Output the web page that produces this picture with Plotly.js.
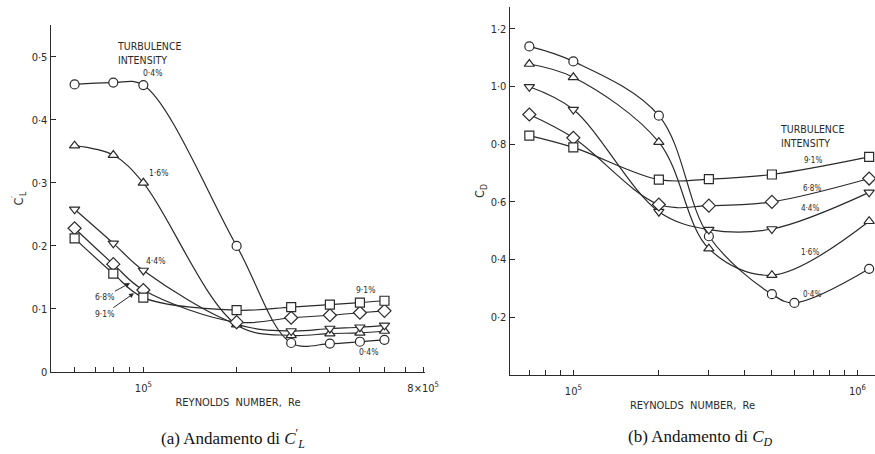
<!DOCTYPE html>
<html><head><meta charset="utf-8">
<script src="https://cdn.plot.ly/plotly-3.0.1.min.js"></script>
<style>html,body{margin:0;padding:0;background:#fff}#chart{width:875px;height:454px}</style>
</head><body><div id="chart"></div>
<script>
// ---- Panel (a): fluctuating lift coefficient C'L vs Reynolds number ----
const reA = [6e4, 8e4, 1e5, 2e5, 3e5, 4e5, 5e5, 6e5];
const clTi04 = [0.456, 0.459, 0.455, 0.200, 0.046, 0.045, 0.048, 0.051];
const clTi16 = [0.359, 0.344, 0.300, 0.075, 0.058, 0.061, 0.062, 0.065];
const clTi44 = [0.258, 0.204, 0.161, 0.076, 0.065, 0.069, 0.071, 0.074];
const clTi68 = [0.228, 0.171, 0.130, 0.079, 0.086, 0.090, 0.094, 0.097];
const clTi91 = [0.212, 0.156, 0.118, 0.098, 0.103, 0.107, 0.110, 0.113];

// ---- Panel (b): drag coefficient CD vs Reynolds number ----
const reB04 = [7e4, 1e5, 2e5, 3e5, 5e5, 6e5, 1.1e6];
const reB = [7e4, 1e5, 2e5, 3e5, 5e5, 1.1e6];
const cdTi04 = [1.139, 1.087, 0.899, 0.481, 0.280, 0.250, 0.368];
const cdTi16 = [1.078, 1.032, 0.807, 0.438, 0.346, 0.533];
const cdTi44 = [0.999, 0.920, 0.566, 0.504, 0.506, 0.633];
const cdTi68 = [0.903, 0.822, 0.591, 0.587, 0.600, 0.681];
const cdTi91 = [0.830, 0.789, 0.677, 0.679, 0.695, 0.756];

// ---- tick labels ----
const yTickValsA = [0, 0.1, 0.2, 0.3, 0.4, 0.5];
const yTickTextA = ['0', '0·1', '0·2', '0·3', '0·4', '0·5'];
const xTickValsA = [6e4, 7e4, 8e4, 9e4, 1e5, 2e5, 3e5, 4e5, 5e5, 6e5, 7e5, 8e5];
const xTickTextA = ['', '', '', '', '10<sup>5</sup>', '', '', '', '', '', '', '8×10<sup>5</sup>'];
const yTickValsB = [0.2, 0.4, 0.6, 0.8, 1.0, 1.2];
const yTickTextB = ['0·2', '0·4', '0·6', '0·8', '1·0', '1·2'];
const xTickValsB = [7e4, 8e4, 9e4, 1e5, 2e5, 3e5, 4e5, 5e5, 6e5, 7e5, 8e5, 9e5, 1e6];
const xTickTextB = ['', '', '', '10<sup>5</sup>', '', '', '', '', '', '', '', '', '10<sup>6</sup>'];

const seriesNames = ['0·4%', '1·6%', '4·4%', '6·8%', '9·1%'];
const symbols = ['circle', 'triangle-up', 'triangle-down', 'diamond', 'square'];

const INK = '#2a2a2a';
const W = 875, H = 454;
const px = x => x / W;
const py = y => 1 - y / H;

function trace(x, y, i, xa, ya) {
  return {
    x: x, y: y, xaxis: xa, yaxis: ya, name: seriesNames[i],
    type: 'scatter', mode: 'lines+markers',
    line: {color: INK, width: 1.2, shape: 'spline', smoothing: 1},
    marker: {symbol: symbols[i], size: i === 3 ? 10 : 9, color: '#fff',
             line: {color: INK, width: 1.2}},
    showlegend: false, hoverinfo: 'x+y'
  };
}

const data = [
  trace(reA, clTi04, 0, 'x', 'y'),
  trace(reA, clTi16, 1, 'x', 'y'),
  trace(reA, clTi44, 2, 'x', 'y'),
  trace(reA, clTi68, 3, 'x', 'y'),
  trace(reA, clTi91, 4, 'x', 'y'),
  trace(reB04, cdTi04, 0, 'x2', 'y2'),
  trace(reB, cdTi16, 1, 'x2', 'y2'),
  trace(reB, cdTi44, 2, 'x2', 'y2'),
  trace(reB, cdTi68, 3, 'x2', 'y2'),
  trace(reB, cdTi91, 4, 'x2', 'y2')
];

const SANS = '"DejaVu Sans Condensed", "Liberation Sans Narrow", "DejaVu Sans", sans-serif';
const SERIF = '"Liberation Serif", "DejaVu Serif", serif';

function axisCommon() {
  return {
    showgrid: false, zeroline: false, showline: true, linecolor: INK, linewidth: 1.4,
    ticks: 'inside', ticklen: 5, tickwidth: 1.1, tickcolor: INK,
    tickfont: {family: SANS, size: 11, color: INK}, tickmode: 'array'
  };
}

function label(text, x, y, size, opts) {
  return Object.assign({
    text: text, xref: 'paper', yref: 'paper', x: px(x), y: py(y),
    showarrow: false, font: {family: SANS, size: size, color: INK},
    xanchor: 'center', yanchor: 'middle'
  }, opts || {});
}

const annotations = [
  // panel (a) legend heading
  label('TURBULENCE<br>INTENSITY', 115, 53, 10.5, {xanchor: 'left', align: 'left'}),
  label(seriesNames[0], 152, 73, 8.5),
  label(seriesNames[1], 158, 173, 8.5),
  label(seriesNames[2], 155, 261, 8.5),
  label(seriesNames[4], 365, 290, 8.5),
  label(seriesNames[0], 368, 352, 8.5),
  // arrowed labels
  {text: seriesNames[3], xref: 'x', yref: 'y', x: 4.957, y: 0.141, ax: -26, ay: 14,
   showarrow: true, arrowhead: 2, arrowsize: 1, arrowwidth: 1, arrowcolor: INK,
   font: {family: SANS, size: 8.5, color: INK}},
  {text: seriesNames[4], xref: 'x', yref: 'y', x: 4.970, y: 0.125, ax: -30, ay: 21,
   showarrow: true, arrowhead: 2, arrowsize: 1, arrowwidth: 1, arrowcolor: INK,
   font: {family: SANS, size: 8.5, color: INK}},
  // panel (b) legend heading
  label('TURBULENCE<br>INTENSITY', 778, 136, 10.5, {xanchor: 'left', align: 'left'}),
  label(seriesNames[4], 813, 160, 8),
  label(seriesNames[3], 812, 188, 8),
  label(seriesNames[2], 810, 208, 8),
  label(seriesNames[1], 810, 252, 8),
  label(seriesNames[0], 812, 294, 8),
  // captions
  {text: '(a) Andamento di <i>C</i><sup>′</sup><sub><i>L</i></sub>', xref: 'paper', yref: 'paper',
   x: px(233), y: py(438), showarrow: false, xanchor: 'center', yanchor: 'middle',
   font: {family: SERIF, size: 17, color: '#111'}},
  {text: '(b) Andamento di <i>C</i><sub><i>D</i></sub>', xref: 'paper', yref: 'paper',
   x: px(700), y: py(438), showarrow: false, xanchor: 'center', yanchor: 'middle',
   font: {family: SERIF, size: 17, color: '#111'}}
];

const layout = {
  width: W, height: H,
  margin: {l: 0, r: 0, t: 0, b: 0},
  paper_bgcolor: '#fff', plot_bgcolor: '#fff',
  xaxis: Object.assign(axisCommon(), {
    type: 'log', domain: [px(51), px(425)], range: [4.702, 5.909], anchor: 'y',
    tickvals: xTickValsA, ticktext: xTickTextA, ticklabelstandoff: 5,
    title: {text: 'REYNOLDS  NUMBER,  Re', font: {family: SANS, size: 11, color: INK}, standoff: 4}
  }),
  yaxis: Object.assign(axisCommon(), {
    domain: [py(372), py(25)], range: [0, 0.5503], anchor: 'x',
    tickvals: yTickValsA, ticktext: yTickTextA,
    title: {text: 'C<sup>′</sup><sub>L</sub>', font: {family: SANS, size: 12.5, color: INK}, standoff: 5}
  }),
  xaxis2: Object.assign(axisCommon(), {
    type: 'log', domain: [px(510), 1], range: [4.777, 6.062], anchor: 'y2',
    tickvals: xTickValsB, ticktext: xTickTextB, ticklabelstandoff: 5,
    title: {text: 'REYNOLDS  NUMBER,  Re', font: {family: SANS, size: 11, color: INK}, standoff: 4}
  }),
  yaxis2: Object.assign(axisCommon(), {
    domain: [py(375), py(7)], range: [0, 1.2756], anchor: 'x2',
    tickvals: yTickValsB, ticktext: yTickTextB,
    title: {text: 'C<sub>D</sub>', font: {family: SANS, size: 12.5, color: INK}, standoff: 3}
  }),
  annotations: annotations
};

Plotly.newPlot('chart', data, layout, {displayModeBar: false, staticPlot: true});
</script>
</body></html>
